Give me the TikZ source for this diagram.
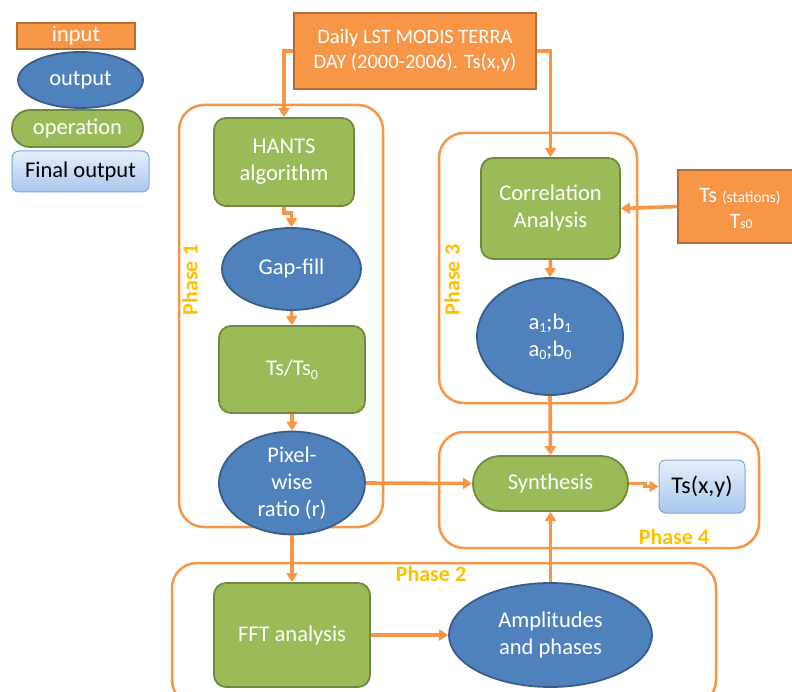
\documentclass[tikz,border=0pt]{standalone}
\usepackage{fontspec}
\setmainfont{Carlito}
\usetikzlibrary{shapes.geometric,arrows.meta,calc}
\definecolor{inorange}{HTML}{F79646}
\definecolor{inborder}{HTML}{B66D31}
\definecolor{opgreen}{HTML}{9BBB59}
\definecolor{opborder}{HTML}{71893F}
\definecolor{outblue}{HTML}{4F81BD}
\definecolor{outborder}{HTML}{385D8A}
\definecolor{phasegold}{HTML}{FFC000}
\definecolor{finalborder}{HTML}{7EA6D6}
\definecolor{finaltop}{HTML}{E6EFFB}
\definecolor{finalbot}{HTML}{A9C6EE}
\newcommand{\sbs}[1]{\raisebox{-3.5pt}{\fontsize{14}{14}\selectfont #1}}
\begin{document}
\begin{tikzpicture}[x=1pt,y=-1pt,
 inbox/.style={draw=inborder, fill=inorange, line width=1.5pt, text=white, inner sep=0pt, align=center},
 opbox/.style={draw=opborder, fill=opgreen, line width=1.8pt, rounded corners=12pt, text=white, inner sep=0pt, align=center},
 outell/.style={ellipse, draw=outborder, fill=outblue, line width=1.8pt, text=white, inner sep=0pt, align=center},
 finalbox/.style={draw=finalborder, top color=finaltop, bottom color=finalbot, line width=1pt, rounded corners=7pt, text=black, inner sep=0pt, align=center},
 phasebox/.style={draw=inorange, line width=2.5pt, rounded corners=25pt},
 phaselabel/.style={text=phasegold, font=\bfseries\fontsize{22}{24}\selectfont},
 arr/.style={draw=inorange, line width=3.6pt, -{Triangle[length=9pt,width=11pt]}},
 txt/.style={font=\fontsize{22.5}{27}\selectfont}
]
\useasboundingbox (0,0) rectangle (792,692);
\clip (0,0) rectangle (792,692);
% phase containers
\draw[phasebox] (179,105) rectangle (383,527);
\draw[phasebox] (439,133) rectangle (637,403);
\draw[phasebox] (439,432) rectangle (759,548);
\draw[phasebox] (172,563) rectangle (716,705);
\node[phaselabel, rotate=90] (ph1) at (190,280) {Phase 1};
\node[phaselabel, rotate=90] (ph3) at (452,280) {Phase 3};
\node[phaselabel] (ph4) at (674,537) {Phase 4};
\node[phaselabel] (ph2) at (431,574) {Phase 2};
% legend
\node[inbox, txt, minimum width=118pt, minimum height=26pt] (leginput) at (76,36) {input};
\node[outell, txt, minimum width=125pt, minimum height=56pt] (legoutput) at (80.5,80) {output};
\node[opbox, txt, rounded corners=18pt, minimum width=131pt, minimum height=37pt] (legop) at (77.5,128.5) {operation};
\node[finalbox, txt, minimum width=137pt, minimum height=41pt] (legfinal) at (80.5,171.5) {Final output};
% main nodes
\node[inbox, font=\fontsize{20.5}{25}\selectfont, minimum width=242pt, minimum height=76pt] (daily) at (415,51) {Daily LST MODIS TERRA\\DAY (2000-2006). Ts(x,y)};
\node[opbox, txt, minimum width=140pt, minimum height=88pt] (hants) at (284,162) {HANTS\\algorithm};
\node[outell, txt, minimum width=139pt, minimum height=82pt] (gap) at (291.5,269) {Gap-fill};
\node[opbox, txt, minimum width=146pt, minimum height=87pt] (ratio) at (292,369.5) {Ts/Ts\sbs{0}};
\node[outell, txt, minimum width=146pt, minimum height=88pt] (pix) at (292,483) {Pixel-\\wise\\ratio (r)};
\node[opbox, txt, minimum width=139pt, minimum height=101pt] (corr) at (550.5,208.5) {Correlation\\Analysis};
\node[outell, txt, minimum width=146pt, minimum height=117pt] (ab) at (550,336.5) {a\sbs{1};b\sbs{1}\\a\sbs{0};b\sbs{0}};
\node[inbox, minimum width=126pt, minimum height=73pt] (tss) at (741,206.5) {};
\node[text=white, font=\fontsize{22}{27}\selectfont, inner sep=0pt, anchor=base] (tssa) at (740,203) {Ts {\fontsize{15.5}{27}\selectfont (stations)}};
\node[text=white, font=\fontsize{22}{27}\selectfont, inner sep=0pt, anchor=base] (tssb) at (741,229) {T{\fontsize{13.5}{27}\selectfont s0}};
\node[opbox, txt, rounded corners=27pt, minimum width=155pt, minimum height=55pt] (syn) at (550.5,483.5) {Synthesis};
\node[finalbox, font=\fontsize{24}{27}\selectfont, minimum width=86pt, minimum height=53pt] (tsout) at (702,486.5) {Ts(x,y)};
\node[opbox, txt, minimum width=156pt, minimum height=104pt] (fft) at (292,635) {FFT analysis};
\node[outell, txt, minimum width=203pt, minimum height=104pt] (amp) at (550.5,635) {Amplitudes\\and phases};
% connectors
\draw[arr] (daily.west) -| (hants.north);
\draw[arr] (daily.east) -| (corr.north);
\draw[arr] (hants.south) -- ++(0,6) -| (gap.north);
\draw[arr] (gap.south) -- (ratio.north);
\draw[arr] (ratio.south) -- (pix.north);
\draw[arr] (tss.west) -- (corr.east);
\draw[arr] (corr.south) -- (ab.north);
\draw[arr] (ab.south) -- (syn.north);
\draw[arr] (pix.east) -- (syn.west);
\draw[arr] (pix.south) -- (fft.north);
\draw[arr] (fft.east) -- (amp.west);
\draw[arr] (amp.north) -- (syn.south);
\draw[arr] (syn.east) -- ++(16,0) |- (tsout.west);
\end{tikzpicture}
\end{document}
